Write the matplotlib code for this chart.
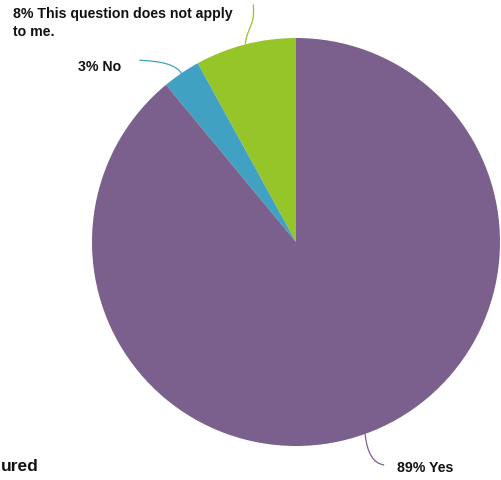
import numpy as np
import matplotlib
matplotlib.use("Agg")
import matplotlib.pyplot as plt
from matplotlib.path import Path
from matplotlib.patches import PathPatch

plt.rcParams['font.family'] = ['Liberation Sans', 'DejaVu Sans']

labels = ["This question does not apply\nto me.", "No", "Yes"]
values = [8, 3, 89]
colors = ["#96C529", "#40A1C2", "#7B5F8C"]

W, H = 501, 480
fig = plt.figure(figsize=(W / 100, H / 100), dpi=100)
ax = fig.add_axes([0, 0, 1, 1])

cx, cy, R = 296, H - 242, 204
wedges, _ = ax.pie(values, colors=colors, startangle=90, counterclock=True,
                   center=(cx, cy), radius=R,
                   wedgeprops=dict(linewidth=0))
ax.set_xlim(0, W)
ax.set_ylim(0, H)
ax.set_aspect('equal')
ax.axis('off')

def anchor(w):
    a = np.deg2rad((w.theta1 + w.theta2) / 2)
    return cx + R * np.cos(a), cy + R * np.sin(a)

def curve(p0, rel, color):
    x0, y0 = p0
    pts = [(x0, y0)] + [(x0 + dx, y0 + dy) for dx, dy in rel]
    codes = [Path.MOVETO] + ([Path.CURVE4] * 3 if len(rel) == 3 else [Path.CURVE3] * 2)
    ax.add_patch(PathPatch(Path(pts, codes), fill=False, edgecolor=color, lw=0.9))

# leader lines (offsets in pixels; y up)
curve(anchor(wedges[0]), [(2, 18), (10, 18), (8, 40)], colors[0])
curve(anchor(wedges[1]), [(-7, 12), (-42, 13)], colors[1])
curve(anchor(wedges[2]), [(3, -29), (19, -31)], colors[2])

tc = "#111111"
fs = 10.2
ax.text(13, H - 18, f"{values[0]}% This question does not apply", fontsize=fs,
        fontweight='bold', color=tc, ha='left', va='baseline')
ax.text(13, H - 36, "to me.", fontsize=fs,
        fontweight='bold', color=tc, ha='left', va='baseline')
ax.text(78, H - 71, f"{values[1]}% {labels[1]}", fontsize=fs,
        fontweight='bold', color=tc, ha='left', va='baseline')
ax.text(397, H - 472, f"{values[2]}% {labels[2]}", fontsize=fs,
        fontweight='bold', color=tc, ha='left', va='baseline')
ax.text(1, H - 471, "ured", fontsize=12.5,
        fontweight='bold', color=tc, ha='left', va='baseline')

fig.savefig("out.png", dpi=100)
